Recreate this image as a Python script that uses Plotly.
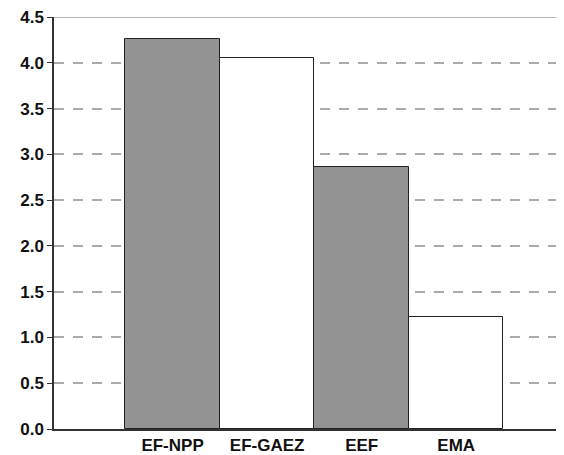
import plotly.graph_objects as go

categories = ["EF-NPP", "EF-GAEZ", "EEF", "EMA"]
values = [4.26, 4.05, 2.86, 1.22]
bar_colors = ["#939393", "#ffffff", "#939393", "#ffffff"]
y_ticks = [0.0, 0.5, 1.0, 1.5, 2.0, 2.5, 3.0, 3.5, 4.0, 4.5]

positions = list(range(len(categories)))

fig = go.Figure()
fig.add_trace(go.Bar(
    x=positions, y=values, width=1,
    marker=dict(color=bar_colors, line=dict(color="#222222", width=1)),
))

font = dict(family="Liberation Sans, Arial, sans-serif", size=17, color="#111111")

# page body has an 8px margin, so the figure is sized to end at the window edge
fig.update_layout(
    width=556, height=447,
    margin=dict(l=46, r=0, t=9, b=20),
    paper_bgcolor="white", plot_bgcolor="white",
    showlegend=False,
    font=font,
    xaxis=dict(
        range=[-1.254, 4.14],
        tickmode="array", tickvals=positions,
        ticktext=["<b>%s</b>" % c for c in categories],
        showgrid=False, zeroline=False,
        showline=True, linecolor="#333333", linewidth=1.5,
        ticks="", ticklen=0,
        ticklabeloverflow="allow",
    ),
    yaxis=dict(
        range=[0, 4.5],
        tickmode="array", tickvals=y_ticks,
        ticktext=["<b>%.1f</b>" % v for v in y_ticks],
        showgrid=True, gridcolor="#aaaaaa", gridwidth=1.5, griddash="10px,9px",
        zeroline=False,
        showline=True, linecolor="#333333", linewidth=1.5,
        ticks="outside", ticklen=5, tickcolor="#333333", tickwidth=1.2,
        layer="below traces",
        ticklabeloverflow="allow",
    ),
    bargap=0,
)

fig.add_shape(type="line", xref="paper", yref="y", x0=0, x1=1, y0=4.5, y1=4.5,
              line=dict(color="#999999", width=1.5))

fig.write_html("out.html")
